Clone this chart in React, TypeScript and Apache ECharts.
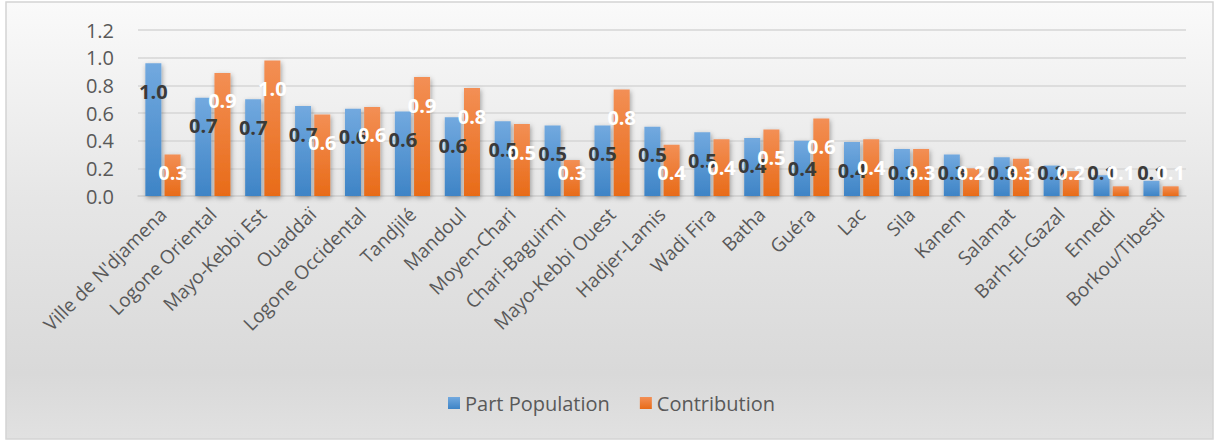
import React, { useEffect, useRef } from "react";
import * as echarts from "echarts";

const categories = [
  "Ville de N'djamena", "Logone Oriental", "Mayo-Kebbi Est", "Ouaddaï", "Logone Occidental",
  "Tandjilé", "Mandoul", "Moyen-Chari", "Chari-Baguirmi", "Mayo-Kebbi Ouest", "Hadjer-Lamis",
  "Wadi Fira", "Batha", "Guéra", "Lac", "Sila", "Kanem", "Salamat", "Barh-El-Gazal", "Ennedi",
  "Borkou/Tibesti",
];
const partPopulation = [
  0.96, 0.71, 0.70, 0.65, 0.63, 0.61, 0.57, 0.54, 0.51, 0.51, 0.50,
  0.46, 0.42, 0.40, 0.39, 0.34, 0.30, 0.28, 0.22, 0.15, 0.11,
];
const contribution = [
  0.30, 0.89, 0.98, 0.59, 0.644, 0.86, 0.78, 0.52, 0.26, 0.77, 0.37,
  0.41, 0.48, 0.56, 0.41, 0.34, 0.20, 0.27, 0.18, 0.07, 0.07,
];
const seriesNames = ["Part Population", "Contribution"];
const yTicks = { min: 0, max: 1.2, interval: 0.2 };

const FONT = "'Open Sans', 'Noto Sans', sans-serif";

export default function App() {
  const ref = useRef<HTMLDivElement>(null);
  useEffect(() => {
    if (!ref.current) return;
    const chart = echarts.init(ref.current, null, { renderer: "svg" });
    const labelLayout = (p: any) => {
      const r = p.rect;
      return {
        x: r.x + r.width / 2,
        y: Math.min(r.y + 28, r.y + r.height - 24),
        align: "center",
        verticalAlign: "middle",
      };
    };
    const barShadow = { shadowBlur: 5, shadowColor: "rgba(0,0,0,0.35)", shadowOffsetY: 2, shadowOffsetX: 1 };
    chart.setOption({
      animation: false,
      textStyle: { fontFamily: FONT },
      graphic: [
        {
          type: "rect",
          shape: { x: 6, y: 2, width: 1207, height: 437 },
          style: {
            fill: new echarts.graphic.LinearGradient(0, 0, 0, 1, [
              { offset: 0, color: "#fafafa" },
              { offset: 0.45, color: "#e6e6e6" },
              { offset: 0.85, color: "#d9d9d9" },
              { offset: 1, color: "#e1e1e1" },
            ]),
            stroke: "#d4d4d4",
            lineWidth: 1.5,
          },
          z: -10,
          silent: true,
        },
      ],
      grid: { left: 138, right: 29, top: 30, bottom: 245, containLabel: false },
      legend: {
        data: seriesNames,
        left: 443,
        top: 388,
        icon: "rect",
        itemWidth: 12,
        itemHeight: 12,
        itemGap: 30,
        textStyle: { fontSize: 20, color: "#595959", fontFamily: FONT },
      },
      xAxis: {
        type: "category",
        data: categories,
        axisTick: { show: false },
        axisLine: { lineStyle: { color: "#d0d0d0", width: 1.5 } },
        axisLabel: { rotate: 45, interval: 0, fontSize: 19, color: "#595959", margin: 15, fontFamily: FONT },
      },
      yAxis: {
        type: "value",
        min: yTicks.min,
        max: yTicks.max,
        interval: yTicks.interval,
        axisLine: { show: false },
        axisTick: { show: false },
        splitLine: { lineStyle: { color: "#d6d6d6", width: 1.5 } },
        axisLabel: {
          fontSize: 20,
          color: "#595959",
          margin: 24,
          fontFamily: FONT,
          formatter: (v: number) => v.toFixed(1),
        },
      },
      series: [
        {
          name: seriesNames[0],
          type: "bar",
          data: partPopulation,
          barWidth: 16,
          barGap: "20%",
          itemStyle: {
            color: new echarts.graphic.LinearGradient(0, 0, 0, 1, [
              { offset: 0, color: "#72a9df" },
              { offset: 1, color: "#3e84c6" },
            ]),
            ...barShadow,
          },
          label: {
            show: true,
            fontSize: 20,
            fontWeight: "bold",
            color: "#3a3a3a",
            fontFamily: FONT,
            formatter: (p: any) => Number(p.value).toFixed(1),
          },
          labelLayout,
        },
        {
          name: seriesNames[1],
          type: "bar",
          data: contribution,
          barWidth: 16,
          itemStyle: {
            color: new echarts.graphic.LinearGradient(0, 0, 0, 1, [
              { offset: 0, color: "#f38f55" },
              { offset: 1, color: "#e86b18" },
            ]),
            ...barShadow,
          },
          label: {
            show: true,
            fontSize: 20,
            fontWeight: "bold",
            color: "#ffffff",
            fontFamily: FONT,
            formatter: (p: any) => Number(p.value).toFixed(1),
          },
          labelLayout,
        },
      ],
    });
    return () => chart.dispose();
  }, []);
  return (
    <div
      ref={ref}
      style={{ position: "fixed", left: 0, top: 0, width: 1215, height: 441, background: "#ffffff" }}
    />
  );
}
